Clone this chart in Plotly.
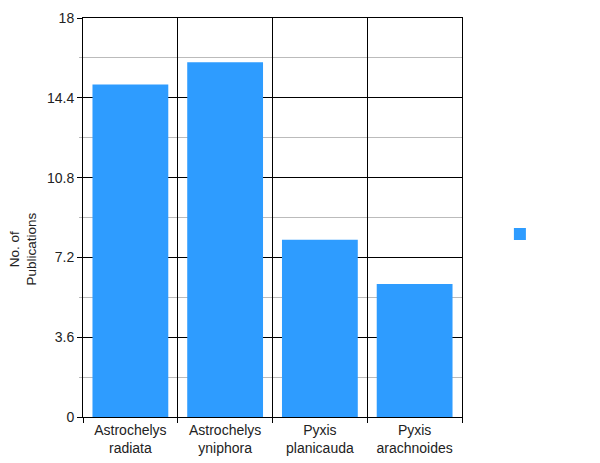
import plotly.graph_objects as go

categories = ["Astrochelys<br>radiata", "Astrochelys<br>yniphora", "Pyxis<br>planicauda", "Pyxis<br>arachnoides"]
publications = [15, 16, 8, 6]
y_ticks = [0, 3.6, 7.2, 10.8, 14.4, 18]
y_tick_labels = ["0", "3.6", "7.2", "10.8", "14.4", "18"]
y_title = "No. of<br>Publications"

fig = go.Figure()
fig.add_trace(go.Bar(
    x=categories, y=publications, name="",
    marker=dict(color="#2E9CFF", line=dict(width=0)),
    width=0.8, showlegend=True,
))

fig.add_annotation(
    text=y_title, textangle=-90, xref="paper", yref="paper",
    x=-0.158, y=0.42, xanchor="center", yanchor="middle", showarrow=False,
    font=dict(size=13.5, color="#222"),
)

fig.update_layout(
    width=600, height=463,
    margin=dict(l=83, r=138, t=18, b=46),
    paper_bgcolor="white", plot_bgcolor="white",
    font=dict(family="Liberation Sans, Arial, sans-serif", size=14, color="#222"),
    bargap=0.2,
    legend=dict(x=1.1, y=0.4586, xanchor="left", yanchor="middle", font=dict(size=1)),
    xaxis=dict(
        type="category", tickson="boundaries", showgrid=True, gridcolor="black", gridwidth=1,
        ticks="outside", ticklen=5, tickcolor="black", automargin=False,
        showline=True, linecolor="black", linewidth=1, mirror=True,
        tickfont=dict(size=14, color="#222"),
    ),
    yaxis=dict(
        range=[0, 18], tickvals=y_ticks, ticktext=y_tick_labels,
        showgrid=True, gridcolor="black", gridwidth=1, automargin=False,
        ticks="outside", ticklen=5, tickcolor="black",
        showline=True, linecolor="black", linewidth=1, mirror=True,
        zeroline=False,
        minor=dict(dtick=1.8, showgrid=True, gridcolor="#BBBBBB", ticks="outside", ticklen=3, tickcolor="#BBBBBB"),
        tickfont=dict(size=14, color="#222"),
    ),
)

fig.write_html("out.html")
